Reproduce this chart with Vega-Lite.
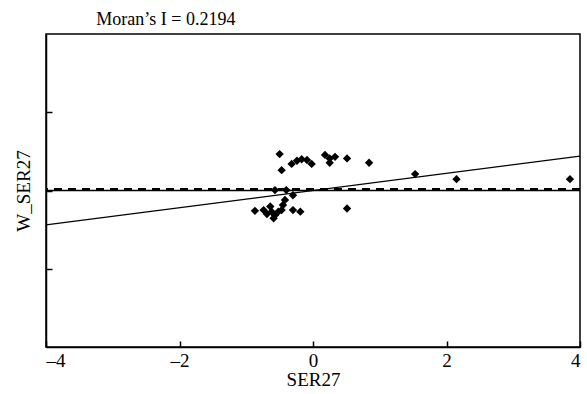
{
  "$schema": "https://vega.github.io/schema/vega-lite/v6.json",
  "width": 534,
  "height": 313,
  "autosize": {"type": "none"},
  "padding": {"left": 46, "top": 34, "right": 7, "bottom": 47},
  "background": "white",
  "config": {
    "font": "Liberation Serif",
    "view": {"stroke": "black", "strokeWidth": 1.5},
    "axis": {"grid": false, "domainColor": "black", "domainWidth": 1.5, "tickColor": "black", "tickWidth": 1.5, "labelColor": "black", "titleColor": "black", "labelFont": "Liberation Serif", "titleFont": "Liberation Serif", "titleFontWeight": "normal"}
  },
  "title": {"text": "Moran’s I = 0.2194", "anchor": "start", "dx": 82, "offset": 5, "fontSize": 18, "fontWeight": "normal", "font": "Liberation Serif", "color": "black"},
  "datasets": {
    "pts": [
      {"x": -0.50, "y": 0.93}, {"x": -0.47, "y": 0.52}, {"x": -0.32, "y": 0.68}, {"x": -0.24, "y": 0.76},
      {"x": -0.17, "y": 0.80}, {"x": -0.09, "y": 0.78}, {"x": -0.02, "y": 0.68}, {"x": 0.18, "y": 0.91},
      {"x": 0.25, "y": 0.82}, {"x": 0.33, "y": 0.86}, {"x": 0.25, "y": 0.71}, {"x": 0.51, "y": 0.82},
      {"x": 0.84, "y": 0.71}, {"x": 1.53, "y": 0.42}, {"x": 2.15, "y": 0.29}, {"x": 3.85, "y": 0.29},
      {"x": -0.57, "y": 0.01}, {"x": -0.40, "y": 0.01}, {"x": -0.30, "y": -0.12}, {"x": -0.42, "y": -0.24},
      {"x": -0.45, "y": -0.37}, {"x": -0.87, "y": -0.52}, {"x": -0.74, "y": -0.50}, {"x": -0.64, "y": -0.41},
      {"x": -0.62, "y": -0.54}, {"x": -0.57, "y": -0.63}, {"x": -0.59, "y": -0.71}, {"x": -0.52, "y": -0.54},
      {"x": -0.69, "y": -0.60}, {"x": -0.47, "y": -0.50}, {"x": -0.30, "y": -0.50}, {"x": -0.19, "y": -0.54},
      {"x": 0.51, "y": -0.46}
    ],
    "reg": [{"x": -4, "y": -0.8776}, {"x": 4, "y": 0.8776}],
    "zero": [{"y": 0}],
    "mean": [{"y": 0.04}]
  },
  "layer": [
    {
      "data": {"name": "zero"},
      "mark": {"type": "rule", "color": "black", "strokeWidth": 1.5},
      "encoding": {"y": {"field": "y", "type": "quantitative", "scale": {"domain": [-4, 4]}}}
    },
    {
      "data": {"name": "mean"},
      "mark": {"type": "rule", "color": "black", "strokeWidth": 2, "strokeDash": [8, 6]},
      "encoding": {"y": {"field": "y", "type": "quantitative"}}
    },
    {
      "data": {"name": "reg"},
      "mark": {"type": "line", "color": "black", "strokeWidth": 1.2, "clip": true},
      "encoding": {
        "x": {"field": "x", "type": "quantitative"},
        "y": {"field": "y", "type": "quantitative"}
      }
    },
    {
      "data": {"name": "pts"},
      "mark": {"type": "point", "shape": "diamond", "filled": true, "color": "black", "size": 70, "opacity": 1},
      "encoding": {
        "x": {"field": "x", "type": "quantitative", "scale": {"domain": [-4, 4], "nice": false, "zero": false},
          "axis": {"title": "SER27", "values": [-4, -2, 0, 2, 4], "format": "d", "tickSize": -6, "labelPadding": 10, "labelFontSize": 19, "titleFontSize": 19, "titlePadding": 0, "labelExpr": "replace(datum.label, '−', '–')"}},
        "y": {"field": "y", "type": "quantitative", "scale": {"domain": [-4, 4], "nice": false, "zero": false},
          "axis": {"title": "W_SER27", "values": [-2, 0, 2], "tickSize": -6, "labels": false, "titleFontSize": 19, "titlePadding": 12}}
      }
    }
  ]
}
